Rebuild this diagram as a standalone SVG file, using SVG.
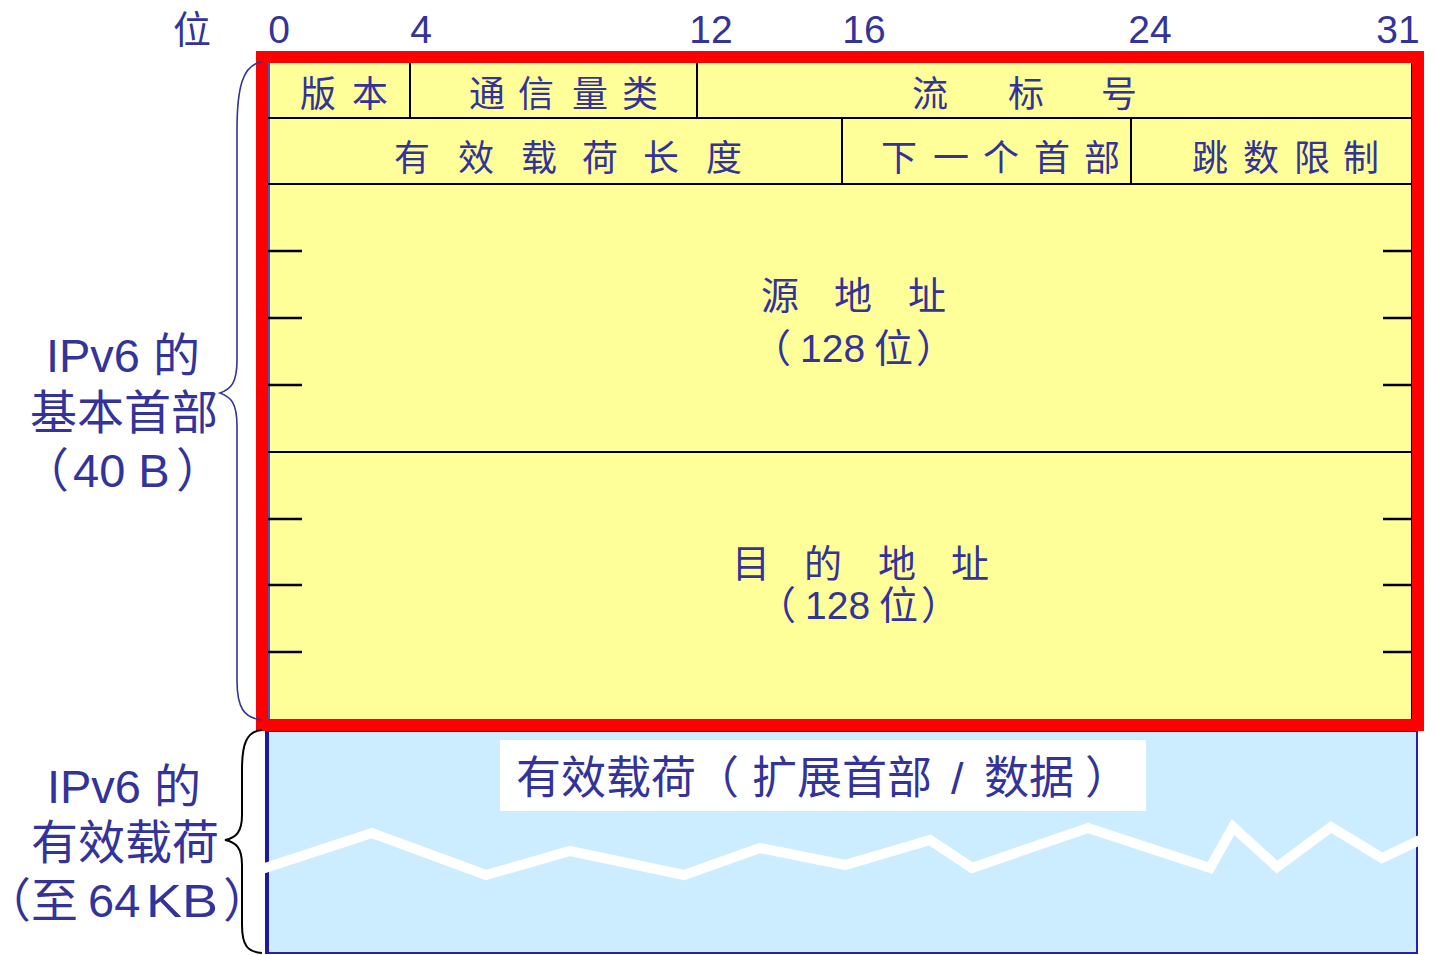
<svg xmlns="http://www.w3.org/2000/svg" width="1435" height="955" viewBox="0 0 1435 955">
<style>
.t{font-family:"Liberation Sans","Noto Sans CJK SC",sans-serif;fill:#333399;text-anchor:middle}
.s{text-anchor:start}
.f{font-size:36px}
.n{font-size:39px}
.l{font-size:47px}
.ln{stroke:#000;stroke-width:2;fill:none}
.tk{stroke:#000;stroke-width:2.5}
</style>
<rect width="1435" height="955" fill="#fff"/>
<g id="bits">
<text class="t" style="font-size:38px" x="192" y="43">位</text>
<text class="t n" x="279" y="43">0</text>
<text class="t n" x="421" y="43">4</text>
<text class="t n" x="711" y="43">12</text>
<text class="t n" x="864" y="43">16</text>
<text class="t n" x="1150" y="43">24</text>
<text class="t n" x="1398" y="43">31</text>
</g>
<g id="payload">
<rect x="266" y="731" width="1151" height="222" fill="#CCECFF" stroke="#2222aa" stroke-width="2"/>
<line x1="267" y1="731" x2="267" y2="954" stroke="#1a1aa0" stroke-width="4"/>
<polyline points="262,869 372,833 486,875 570,851 684,875 760,848 845,865 930,840 972,868 1088,828 1210,868 1233,827 1277,867 1331,827 1382,858 1420,840" fill="none" stroke="#fff" stroke-width="10" stroke-linejoin="miter"/>
<rect x="500" y="740" width="646" height="71" fill="#fff"/>
<text class="t s" style="font-size:45px" y="794"><tspan x="516">有效载荷</tspan><tspan x="694">（</tspan><tspan x="752">扩展首部</tspan><tspan x="951">/</tspan><tspan x="984">数据</tspan><tspan x="1085">）</tspan></text>
</g>
<g id="header">
<rect x="268" y="62" width="1144" height="658" fill="#FFFF99" stroke="#000" stroke-width="2"/>
<line x1="269" y1="62" x2="269" y2="720" stroke="#4455bb" stroke-width="2"/>
<line class="ln" x1="268" y1="118" x2="1412" y2="118"/>
<line class="ln" x1="268" y1="184" x2="1412" y2="184"/>
<line class="ln" x1="268" y1="452" x2="1412" y2="452"/>
<line class="ln" x1="410" y1="62" x2="410" y2="118"/>
<line class="ln" x1="697" y1="62" x2="697" y2="118"/>
<line class="ln" x1="842" y1="118" x2="842" y2="184"/>
<line class="ln" x1="1131" y1="118" x2="1131" y2="184"/>
<g id="ticks">
<line class="tk" x1="268" y1="251" x2="302" y2="251"/>
<line class="tk" x1="268" y1="318" x2="302" y2="318"/>
<line class="tk" x1="268" y1="385" x2="302" y2="385"/>
<line class="tk" x1="268" y1="519" x2="302" y2="519"/>
<line class="tk" x1="268" y1="585" x2="302" y2="585"/>
<line class="tk" x1="268" y1="652" x2="302" y2="652"/>
<line class="tk" x1="1383" y1="251" x2="1412" y2="251"/>
<line class="tk" x1="1383" y1="318" x2="1412" y2="318"/>
<line class="tk" x1="1383" y1="385" x2="1412" y2="385"/>
<line class="tk" x1="1383" y1="519" x2="1412" y2="519"/>
<line class="tk" x1="1383" y1="585" x2="1412" y2="585"/>
<line class="tk" x1="1383" y1="652" x2="1412" y2="652"/>
</g>
<rect x="262" y="57" width="1156" height="668" fill="none" stroke="#FF0000" stroke-width="12"/>
</g>
<g id="f-version"><text class="t f" x="318 370" y="107">版本</text></g>
<g id="f-class"><text class="t f" x="487 536 590 640" y="107">通信量类</text></g>
<g id="f-flow"><text class="t f" x="930 1026 1119" y="107">流标号</text></g>
<g id="f-len"><text class="t f" x="412 476 539 600 661 724" y="171">有效载荷长度</text></g>
<g id="f-next"><text class="t f" x="899 951 1001 1052 1102" y="171">下一个首部</text></g>
<g id="f-hop"><text class="t f" x="1210 1261 1312 1361" y="171">跳数限制</text></g>
<g id="f-src">
<text class="t" style="font-size:38px" x="780 853 927" y="309">源地址</text>
<text class="t s" style="font-size:39px" y="362"><tspan x="752">（</tspan><tspan x="800">128</tspan><tspan x="874">位</tspan><tspan x="916">）</tspan></text>
</g>
<g id="f-dst">
<text class="t" style="font-size:38px" x="751 823 897 970" y="577">目的地址</text>
<text class="t s" style="font-size:39px" y="619"><tspan x="757">（</tspan><tspan x="805">128</tspan><tspan x="879">位</tspan><tspan x="921">）</tspan></text>
</g>
<g id="braces">
<path d="M262,62 C242,64 237,90 237,130 L237,360 C237,383 231,389 220,393 C231,397 237,403 237,426 L237,680 C237,708 244,718 262,720" fill="none" stroke="#333399" stroke-width="1.6"/>
<path d="M262,730 C246,731 242,745 242,770 L242,815 C242,832 236,838 225,840 C236,842 242,848 242,865 L242,925 C242,946 248,952 262,953" fill="none" stroke="#000" stroke-width="2"/>
</g>
<g id="label-header">
<text class="t l" x="123" y="372">IPv6 的</text>
<text class="t l" x="124" y="429">基本首部</text>
<text class="t l s" y="487"><tspan x="22">（</tspan><tspan x="73">40 B</tspan><tspan x="176">）</tspan></text>
</g>
<g id="label-payload">
<text class="t l" x="124" y="803">IPv6 的</text>
<text class="t l" x="125" y="859">有效载荷</text>
<text class="t l s" y="917"><tspan x="-16">（</tspan><tspan x="31">至</tspan><tspan x="88">64</tspan><tspan x="146" textLength="72" lengthAdjust="spacingAndGlyphs">KB</tspan><tspan x="223">）</tspan></text>
</g>
</svg>
